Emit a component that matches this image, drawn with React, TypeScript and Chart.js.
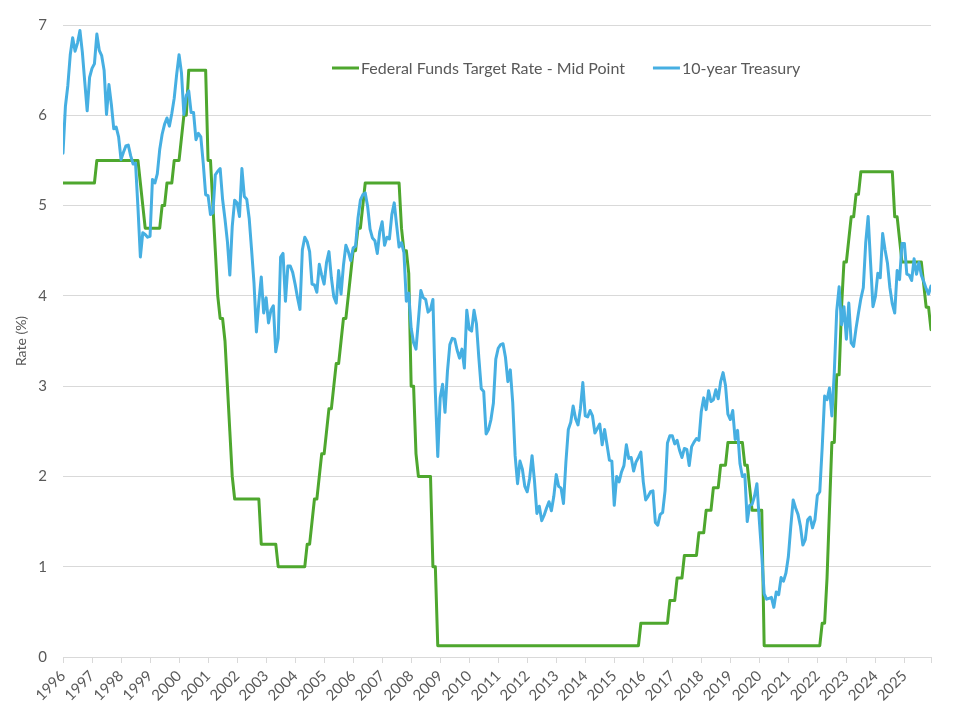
import { useEffect, useRef } from 'react';
import { Chart, registerables } from 'chart.js';

Chart.register(...registerables);

// ---------- DATA (month-end values, Jan 1996 – Dec 2025) ----------
const firstYear = 1996;
const yearLabels: string[] = [
  '1996', '1997', '1998', '1999', '2000', '2001', '2002', '2003', '2004', '2005',
  '2006', '2007', '2008', '2009', '2010', '2011', '2012', '2013', '2014', '2015',
  '2016', '2017', '2018', '2019', '2020', '2021', '2022', '2023', '2024', '2025',
];

const fedFundsMid: number[] = [
  5.25, 5.25, 5.25, 5.25, 5.25, 5.25, 5.25, 5.25, 5.25, 5.25, 5.25, 5.25, // 1996
  5.25, 5.25, 5.5, 5.5, 5.5, 5.5, 5.5, 5.5, 5.5, 5.5, 5.5, 5.5, // 1997
  5.5, 5.5, 5.5, 5.5, 5.5, 5.5, 5.5, 5.5, 5.25, 5.0, 4.75, 4.75, // 1998
  4.75, 4.75, 4.75, 4.75, 4.75, 5.0, 5.0, 5.25, 5.25, 5.25, 5.5, 5.5, // 1999
  5.5, 5.75, 6.0, 6.0, 6.5, 6.5, 6.5, 6.5, 6.5, 6.5, 6.5, 6.5, // 2000
  5.5, 5.5, 5.0, 4.5, 4.0, 3.75, 3.75, 3.5, 3.0, 2.5, 2.0, 1.75, // 2001
  1.75, 1.75, 1.75, 1.75, 1.75, 1.75, 1.75, 1.75, 1.75, 1.75, 1.25, 1.25, // 2002
  1.25, 1.25, 1.25, 1.25, 1.25, 1.0, 1.0, 1.0, 1.0, 1.0, 1.0, 1.0, // 2003
  1.0, 1.0, 1.0, 1.0, 1.0, 1.25, 1.25, 1.5, 1.75, 1.75, 2.0, 2.25, // 2004
  2.25, 2.5, 2.75, 2.75, 3.0, 3.25, 3.25, 3.5, 3.75, 3.75, 4.0, 4.25, // 2005
  4.5, 4.5, 4.75, 4.75, 5.0, 5.25, 5.25, 5.25, 5.25, 5.25, 5.25, 5.25, // 2006
  5.25, 5.25, 5.25, 5.25, 5.25, 5.25, 5.25, 5.25, 4.75, 4.5, 4.5, 4.25, // 2007
  3.0, 3.0, 2.25, 2.0, 2.0, 2.0, 2.0, 2.0, 2.0, 1.0, 1.0, 0.125, // 2008
  0.125, 0.125, 0.125, 0.125, 0.125, 0.125, 0.125, 0.125, 0.125, 0.125, 0.125, 0.125, // 2009
  0.125, 0.125, 0.125, 0.125, 0.125, 0.125, 0.125, 0.125, 0.125, 0.125, 0.125, 0.125, // 2010
  0.125, 0.125, 0.125, 0.125, 0.125, 0.125, 0.125, 0.125, 0.125, 0.125, 0.125, 0.125, // 2011
  0.125, 0.125, 0.125, 0.125, 0.125, 0.125, 0.125, 0.125, 0.125, 0.125, 0.125, 0.125, // 2012
  0.125, 0.125, 0.125, 0.125, 0.125, 0.125, 0.125, 0.125, 0.125, 0.125, 0.125, 0.125, // 2013
  0.125, 0.125, 0.125, 0.125, 0.125, 0.125, 0.125, 0.125, 0.125, 0.125, 0.125, 0.125, // 2014
  0.125, 0.125, 0.125, 0.125, 0.125, 0.125, 0.125, 0.125, 0.125, 0.125, 0.125, 0.375, // 2015
  0.375, 0.375, 0.375, 0.375, 0.375, 0.375, 0.375, 0.375, 0.375, 0.375, 0.375, 0.625, // 2016
  0.625, 0.625, 0.875, 0.875, 0.875, 1.125, 1.125, 1.125, 1.125, 1.125, 1.125, 1.375, // 2017
  1.375, 1.375, 1.625, 1.625, 1.625, 1.875, 1.875, 1.875, 2.125, 2.125, 2.125, 2.375, // 2018
  2.375, 2.375, 2.375, 2.375, 2.375, 2.375, 2.125, 2.125, 1.875, 1.625, 1.625, 1.625, // 2019
  1.625, 1.625, 0.125, 0.125, 0.125, 0.125, 0.125, 0.125, 0.125, 0.125, 0.125, 0.125, // 2020
  0.125, 0.125, 0.125, 0.125, 0.125, 0.125, 0.125, 0.125, 0.125, 0.125, 0.125, 0.125, // 2021
  0.125, 0.125, 0.375, 0.375, 0.875, 1.625, 2.375, 2.375, 3.125, 3.125, 3.875, 4.375, // 2022
  4.375, 4.625, 4.875, 4.875, 5.125, 5.125, 5.375, 5.375, 5.375, 5.375, 5.375, 5.375, // 2023
  5.375, 5.375, 5.375, 5.375, 5.375, 5.375, 5.375, 5.375, 4.875, 4.875, 4.625, 4.375, // 2024
  4.375, 4.375, 4.375, 4.375, 4.375, 4.375, 4.375, 4.375, 4.125, 3.875, 3.875, 3.625, // 2025
];

const treasury10y: number[] = [
  5.58, 6.10, 6.33, 6.67, 6.86, 6.71, 6.80, 6.94, 6.70, 6.37, 6.05, 6.42, // 1996
  6.52, 6.57, 6.90, 6.72, 6.66, 6.50, 6.01, 6.34, 6.12, 5.85, 5.87, 5.76, // 1997
  5.51, 5.59, 5.66, 5.67, 5.55, 5.46, 5.47, 4.98, 4.43, 4.70, 4.68, 4.65, // 1998
  4.66, 5.29, 5.25, 5.35, 5.62, 5.79, 5.90, 5.97, 5.88, 6.02, 6.19, 6.45, // 1999
  6.67, 6.47, 6.01, 6.22, 6.27, 6.03, 6.03, 5.73, 5.80, 5.76, 5.47, 5.12, // 2000
  5.11, 4.90, 4.92, 5.34, 5.38, 5.41, 5.07, 4.85, 4.60, 4.23, 4.77, 5.06, // 2001
  5.03, 4.88, 5.41, 5.10, 5.07, 4.86, 4.51, 4.14, 3.60, 3.93, 4.21, 3.81, // 2002
  3.98, 3.70, 3.84, 3.89, 3.38, 3.53, 4.43, 4.47, 3.94, 4.33, 4.33, 4.26, // 2003
  4.13, 3.98, 3.85, 4.51, 4.65, 4.60, 4.49, 4.13, 4.12, 4.04, 4.35, 4.23, // 2004
  4.13, 4.37, 4.49, 4.20, 3.99, 3.92, 4.28, 4.02, 4.34, 4.56, 4.49, 4.39, // 2005
  4.53, 4.55, 4.86, 5.06, 5.12, 5.14, 4.99, 4.74, 4.64, 4.61, 4.47, 4.71, // 2006
  4.82, 4.56, 4.65, 4.63, 4.90, 5.03, 4.78, 4.54, 4.59, 4.48, 3.94, 4.03, // 2007
  3.64, 3.48, 3.41, 3.73, 4.06, 3.98, 3.96, 3.82, 3.85, 3.96, 2.93, 2.22, // 2008
  2.87, 3.02, 2.71, 3.16, 3.46, 3.53, 3.52, 3.40, 3.31, 3.41, 3.20, 3.84, // 2009
  3.63, 3.61, 3.84, 3.69, 3.31, 2.97, 2.94, 2.47, 2.52, 2.63, 2.81, 3.30, // 2010
  3.42, 3.46, 3.47, 3.32, 3.05, 3.18, 2.82, 2.23, 1.92, 2.17, 2.08, 1.89, // 2011
  1.83, 1.98, 2.23, 1.95, 1.59, 1.67, 1.51, 1.57, 1.65, 1.72, 1.62, 1.78, // 2012
  2.02, 1.89, 1.87, 1.70, 2.16, 2.52, 2.60, 2.78, 2.64, 2.57, 2.75, 3.04, // 2013
  2.67, 2.66, 2.73, 2.67, 2.48, 2.53, 2.58, 2.35, 2.52, 2.35, 2.18, 2.17, // 2014
  1.68, 2.00, 1.94, 2.05, 2.12, 2.35, 2.20, 2.21, 2.06, 2.16, 2.21, 2.27, // 2015
  1.94, 1.74, 1.78, 1.83, 1.84, 1.49, 1.46, 1.58, 1.60, 1.84, 2.37, 2.45, // 2016
  2.45, 2.36, 2.40, 2.29, 2.21, 2.31, 2.30, 2.12, 2.33, 2.38, 2.42, 2.40, // 2017
  2.72, 2.87, 2.74, 2.95, 2.83, 2.85, 2.96, 2.86, 3.05, 3.15, 3.01, 2.69, // 2018
  2.63, 2.73, 2.41, 2.51, 2.14, 2.00, 2.02, 1.50, 1.68, 1.69, 1.78, 1.92, // 2019
  1.51, 1.13, 0.70, 0.64, 0.65, 0.66, 0.55, 0.72, 0.69, 0.88, 0.84, 0.93, // 2020
  1.11, 1.44, 1.74, 1.65, 1.58, 1.45, 1.24, 1.30, 1.52, 1.55, 1.43, 1.52, // 2021
  1.79, 1.83, 2.32, 2.89, 2.85, 2.98, 2.67, 3.15, 3.83, 4.10, 3.68, 3.88, // 2022
  3.52, 3.92, 3.48, 3.44, 3.64, 3.81, 3.97, 4.09, 4.59, 4.88, 4.37, 3.88, // 2023
  3.99, 4.25, 4.20, 4.69, 4.51, 4.36, 4.09, 3.91, 3.81, 4.28, 4.18, 4.58, // 2024
  4.58, 4.24, 4.23, 4.17, 4.41, 4.24, 4.37, 4.23, 4.16, 4.08, 4.02, 4.11, // 2025
];

const seriesNames: string[] = ['Federal Funds Target Rate - Mid Point', '10-year Treasury'];
const yAxisTitle = 'Rate (%)';

// ---------- STYLE ----------
const GREEN = '#4EA72E';
const BLUE = '#46AFE2';
const TEXT = '#595959';
const GRID = '#D9D9D9';
const FONT = 'Lato';

const lastIndex = treasury10y.length - 1;
const yearTickValues: number[] = [...yearLabels.map((_, i) => i * 12), lastIndex];

const insideLegend = {
  id: 'insideLegend',
  afterDraw(chart: any) {
    const ctx: CanvasRenderingContext2D = chart.ctx;
    const items = [
      { label: seriesNames[0], color: GREEN },
      { label: seriesNames[1], color: BLUE },
    ];
    ctx.save();
    ctx.font = `16px ${FONT}`;
    ctx.textBaseline = 'middle';
    ctx.textAlign = 'left';
    let x = 332;
    const y = 68;
    items.forEach((it) => {
      ctx.strokeStyle = it.color;
      ctx.lineWidth = 3;
      ctx.beginPath();
      ctx.moveTo(x, y);
      ctx.lineTo(x + 27, y);
      ctx.stroke();
      ctx.fillStyle = TEXT;
      ctx.fillText(it.label, x + 29, y + 1);
      x += 29 + ctx.measureText(it.label).width + 28;
    });
    ctx.restore();
  },
};

export default function App() {
  const canvasRef = useRef<HTMLCanvasElement | null>(null);

  useEffect(() => {
    document.body.style.margin = '0';
    const canvas = canvasRef.current;
    if (!canvas) return;

    const toPoints = (arr: number[]) => arr.map((v, i) => ({ x: i, y: v }));

    const chart = new Chart(canvas, {
      type: 'line',
      data: {
        datasets: [
          {
            label: seriesNames[0],
            data: toPoints(fedFundsMid),
            borderColor: GREEN,
            backgroundColor: GREEN,
            borderWidth: 3,
            pointRadius: 0,
            tension: 0,
            borderJoinStyle: 'round',
            borderCapStyle: 'round',
            order: 1,
          },
          {
            label: seriesNames[1],
            data: toPoints(treasury10y),
            borderColor: BLUE,
            backgroundColor: BLUE,
            borderWidth: 3,
            pointRadius: 0,
            tension: 0,
            borderJoinStyle: 'round',
            borderCapStyle: 'round',
            order: 0,
          },
        ],
      },
      options: {
        animation: false,
        responsive: true,
        maintainAspectRatio: false,
        layout: { padding: { top: 24, right: 29, bottom: 0, left: 0 } },
        plugins: {
          legend: { display: false },
          tooltip: { enabled: false },
        },
        scales: {
          x: {
            type: 'linear',
            min: 0,
            max: lastIndex,
            afterBuildTicks: (scale: any) => {
              scale.ticks = yearTickValues.map((v) => ({ value: v }));
            },
            afterFit: (scale: any) => {
              scale.height = 63;
            },
            grid: {
              drawOnChartArea: false,
              drawTicks: true,
              tickLength: 6,
              color: GRID,
            },
            border: { display: false },
            ticks: {
              autoSkip: false,
              maxRotation: 45,
              minRotation: 45,
              padding: 4,
              color: TEXT,
              font: { family: FONT, size: 15 },
              callback: (value: any) => {
                const v = Number(value);
                if (v % 12 !== 0) return '';
                return yearLabels[v / 12] ?? '';
              },
            },
          },
          y: {
            min: 0,
            max: 7,
            afterFit: (scale: any) => {
              scale.width = 63;
            },
            ticks: {
              stepSize: 1,
              padding: 16,
              color: TEXT,
              font: { family: FONT, size: 15 },
            },
            grid: { color: GRID, drawTicks: false },
            border: { display: false },
            title: {
              display: true,
              text: yAxisTitle,
              color: TEXT,
              font: { family: FONT, size: 14 },
              padding: { top: 13, bottom: 0 },
            },
          },
        },
      },
      plugins: [insideLegend],
    });

    return () => chart.destroy();
  }, []);

  return (
    <div style={{ position: 'relative', width: 960, height: 720 }}>
      <canvas ref={canvasRef} />
    </div>
  );
}
